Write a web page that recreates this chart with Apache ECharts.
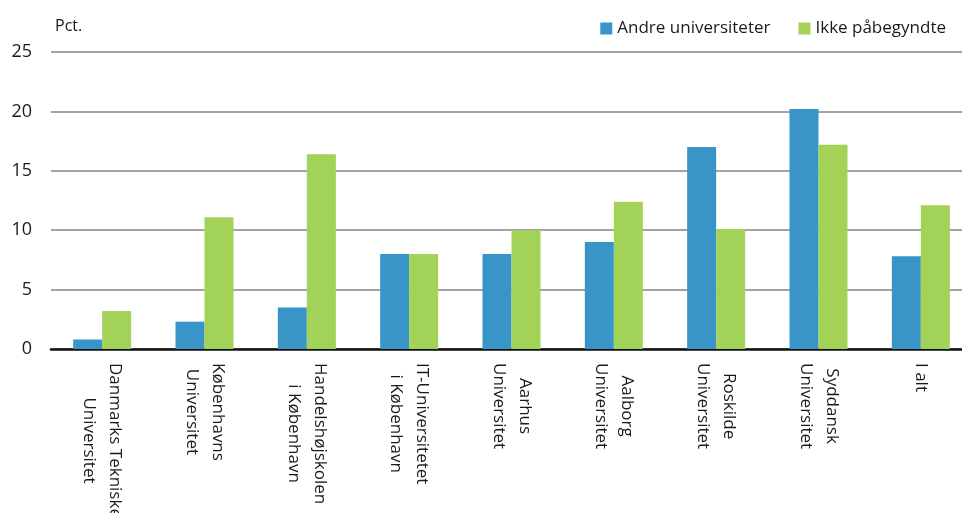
<!DOCTYPE html>
<html>
<head>
<meta charset="utf-8">
<script src="https://cdn.jsdelivr.net/npm/echarts@6/dist/echarts.min.js"></script>
<style>
html,body{margin:0;padding:0;background:#fff;}
#c{width:962px;height:513px;}
</style>
</head>
<body>
<div id="c"></div>
<script>
const categories = [
  "Danmarks Tekniske\nUniversitet",
  "Københavns\nUniversitet",
  "Handelshøjskolen\ni København",
  "IT-Universitetet\ni København",
  "Aarhus\nUniversitet",
  "Aalborg\nUniversitet",
  "Roskilde\nUniversitet",
  "Syddansk\nUniversitet",
  "I alt"
];
const andreUniversiteter = [0.8, 2.3, 3.5, 8.0, 8.0, 9.0, 17.0, 20.2, 7.8];
const ikkePaabegyndte = [3.2, 11.1, 16.4, 8.0, 10.0, 12.4, 10.1, 17.2, 12.1];
const seriesNames = ["Andre universiteter", "Ikke påbegyndte"];
const yTicks = {min: 0, max: 25, interval: 5};

const FONT = "'Open Sans', 'Noto Sans', sans-serif";
const chart = echarts.init(document.getElementById('c'), null, {renderer: 'canvas'});
chart.setOption({
  animation: false,
  backgroundColor: '#ffffff',
  textStyle: {fontFamily: FONT, color: '#1a1a1a'},
  legend: {
    right: 11, top: 15,
    itemWidth: 12, itemHeight: 12, itemGap: 28,
    icon: 'rect',
    textStyle: {fontSize: 17, color: '#1a1a1a', fontFamily: FONT},
    data: seriesNames
  },
  grid: {left: 51, right: -10, top: 52, bottom: 164, containLabel: false, outerBoundsMode: 'none'},
  xAxis: {
    type: 'category',
    data: categories,
    axisTick: {show: false},
    axisLine: {lineStyle: {color: '#111', width: 2.5}},
    axisLabel: {
      rotate: -90,
      interval: 0,
      margin: 14,
      color: '#1a1a1a',
      fontFamily: FONT,
      fontSize: 17,
      lineHeight: 26,
      formatter: function (v) {
        return v.split('\n').map(function (s) { return '{c|' + s + '}'; }).join('\n');
      },
      rich: {c: {align: 'center', fontSize: 17, lineHeight: 26, fontFamily: FONT, color: '#1a1a1a'}}
    }
  },
  yAxis: {
    type: 'value',
    min: yTicks.min, max: yTicks.max, interval: yTicks.interval,
    name: 'Pct.',
    nameLocation: 'end',
    nameGap: 18,
    nameTextStyle: {align: 'left', fontSize: 16, color: '#1a1a1a', fontFamily: FONT, padding: [0, 0, 0, 4]},
    axisLine: {show: false},
    axisTick: {show: false},
    axisLabel: {margin: 19, fontSize: 18, color: '#1a1a1a', fontFamily: FONT},
    splitLine: {lineStyle: {color: '#a3a3a3', width: 2}}
  },
  series: [
    {
      name: seriesNames[0], type: 'bar', data: andreUniversiteter,
      barWidth: 29, barGap: '0%',
      itemStyle: {color: '#3994c8'}
    },
    {
      name: seriesNames[1], type: 'bar', data: ikkePaabegyndte,
      barWidth: 29, barGap: '0%',
      itemStyle: {color: '#a2d257'}
    }
  ]
});
</script>
</body>
</html>
